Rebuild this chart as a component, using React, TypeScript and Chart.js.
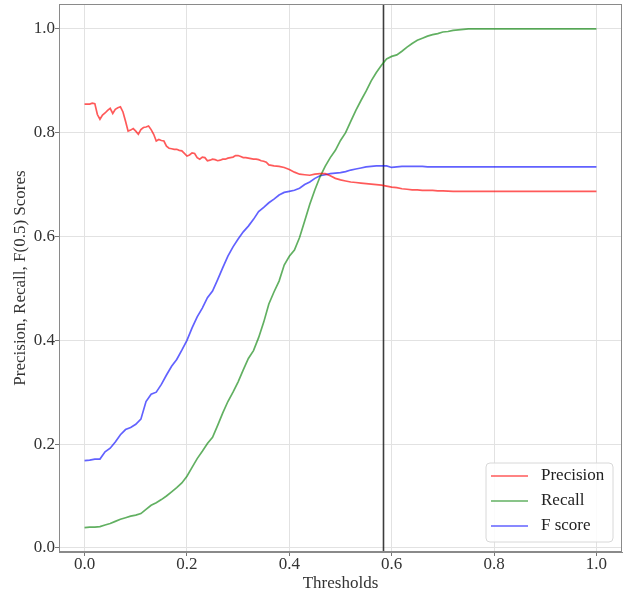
import React, { useEffect, useRef } from "react";
import { Chart, registerables } from "chart.js";

Chart.register(...registerables);

const thresholds = [
  0.0, 0.01, 0.02, 0.03, 0.04, 0.05, 0.06, 0.07, 0.08, 0.09,
  0.1, 0.11, 0.12, 0.13, 0.14, 0.15, 0.16, 0.17, 0.18, 0.19,
  0.2, 0.21, 0.22, 0.23, 0.24, 0.25, 0.26, 0.27, 0.28, 0.29,
  0.3, 0.31, 0.32, 0.33, 0.34, 0.35, 0.36, 0.37, 0.38, 0.39,
  0.4, 0.41, 0.42, 0.43, 0.44, 0.45, 0.46, 0.47, 0.48, 0.49,
  0.5, 0.51, 0.52, 0.53, 0.54, 0.55, 0.56, 0.57, 0.58, 0.59,
  0.6, 0.61, 0.62, 0.63, 0.64, 0.65, 0.66, 0.67, 0.68, 0.69,
  0.7, 0.71, 0.72, 0.73, 0.74, 0.75, 0.76, 0.77, 0.78, 0.79,
  0.8, 0.81, 0.82, 0.83, 0.84, 0.85, 0.86, 0.87, 0.88, 0.89,
  0.9, 0.91, 0.92, 0.93, 0.94, 0.95, 0.96, 0.97, 0.98, 0.99, 1.0,
];

// Precision is read more finely where it is noisy (0 - 0.37)
const precisionThresholds = [
  0.0, 0.005, 0.01, 0.015, 0.02, 0.025, 0.03, 0.035, 0.04, 0.045,
  0.05, 0.055, 0.06, 0.065, 0.07, 0.075, 0.08, 0.085, 0.09, 0.095,
  0.1, 0.105, 0.11, 0.115, 0.12, 0.125, 0.13, 0.135, 0.14, 0.145,
  0.15, 0.155, 0.16, 0.165, 0.17, 0.175, 0.18, 0.185, 0.19, 0.195,
  0.2, 0.205, 0.21, 0.215, 0.22, 0.225, 0.23, 0.235, 0.24, 0.245,
  0.25, 0.255, 0.26, 0.265, 0.27, 0.275, 0.28, 0.285, 0.29, 0.295,
  0.3, 0.305, 0.31, 0.315, 0.32, 0.325, 0.33, 0.335, 0.34, 0.345,
  0.35, 0.355, 0.36, 0.365, 0.37, 0.38, 0.39,
  0.4, 0.41, 0.42, 0.43, 0.44, 0.45, 0.46, 0.47, 0.48, 0.49,
  0.5, 0.51, 0.52, 0.53, 0.54, 0.55, 0.56, 0.57, 0.58, 0.59,
  0.6, 0.61, 0.62, 0.63, 0.64, 0.65, 0.66, 0.67, 0.68, 0.69,
  0.7, 0.72, 0.75, 0.8, 0.85, 0.9, 0.95, 1.0,
];

const precision = [
  0.855, 0.855, 0.855, 0.857, 0.856, 0.835, 0.826, 0.834, 0.838, 0.843,
  0.847, 0.837, 0.845, 0.848, 0.85, 0.84, 0.822, 0.803, 0.805, 0.808,
  0.803, 0.797, 0.806, 0.81, 0.811, 0.813, 0.806, 0.797, 0.784, 0.787,
  0.785, 0.784, 0.774, 0.77, 0.769, 0.768, 0.768, 0.766, 0.765, 0.76,
  0.755, 0.757, 0.761, 0.76, 0.752, 0.749, 0.753, 0.752, 0.746, 0.747,
  0.749, 0.748, 0.746, 0.747, 0.749, 0.749, 0.751, 0.752, 0.753, 0.756,
  0.756, 0.754, 0.752, 0.752, 0.751, 0.75, 0.749, 0.749, 0.748, 0.746,
  0.745, 0.743, 0.738, 0.737, 0.736, 0.735, 0.733,
  0.729, 0.724, 0.72, 0.719, 0.718, 0.72, 0.721, 0.721, 0.717, 0.712,
  0.709, 0.707, 0.705, 0.704, 0.703, 0.702, 0.701, 0.7, 0.699, 0.697,
  0.695, 0.694, 0.692, 0.691, 0.69, 0.69, 0.689, 0.689, 0.689, 0.688,
  0.688, 0.687, 0.687, 0.687, 0.687, 0.687, 0.687, 0.687,
];

const recall = [
  0.039, 0.04, 0.04, 0.041, 0.044, 0.047, 0.051, 0.055, 0.058, 0.061,
  0.063, 0.066, 0.074, 0.082, 0.087, 0.093, 0.1, 0.108, 0.116, 0.125,
  0.138, 0.155, 0.172, 0.186, 0.201, 0.213, 0.236, 0.26, 0.282, 0.3,
  0.32, 0.343, 0.365, 0.38, 0.405, 0.435, 0.47, 0.493, 0.514, 0.545,
  0.562, 0.574, 0.598, 0.63, 0.662, 0.69, 0.715, 0.735, 0.752, 0.766,
  0.785, 0.8, 0.822, 0.843, 0.862, 0.88, 0.9, 0.916, 0.93, 0.942,
  0.947, 0.95, 0.957, 0.965, 0.972, 0.978, 0.982, 0.986, 0.989, 0.991,
  0.994, 0.995, 0.997, 0.998, 0.999, 1.0, 1.0, 1.0, 1.0, 1.0,
  1.0, 1.0, 1.0, 1.0, 1.0, 1.0, 1.0, 1.0, 1.0, 1.0,
  1.0, 1.0, 1.0, 1.0, 1.0, 1.0, 1.0, 1.0, 1.0, 1.0, 1.0,
];

const fScore = [
  0.168, 0.169, 0.171, 0.171, 0.185, 0.192, 0.204, 0.218, 0.228, 0.232,
  0.238, 0.248, 0.282, 0.296, 0.3, 0.315, 0.333, 0.35, 0.363, 0.381,
  0.4, 0.424, 0.445, 0.462, 0.482, 0.495, 0.517, 0.54, 0.562, 0.58,
  0.595, 0.609, 0.62, 0.633, 0.648, 0.656, 0.665, 0.672, 0.68, 0.685,
  0.687, 0.689, 0.693, 0.7, 0.705, 0.712, 0.717, 0.719, 0.721, 0.722,
  0.723, 0.725, 0.728, 0.73, 0.732, 0.734, 0.735, 0.736, 0.736, 0.736,
  0.733, 0.734, 0.735, 0.735, 0.735, 0.735, 0.735, 0.734, 0.734, 0.734,
  0.734, 0.734, 0.734, 0.734, 0.734, 0.734, 0.734, 0.734, 0.734, 0.734,
  0.734, 0.734, 0.734, 0.734, 0.734, 0.734, 0.734, 0.734, 0.734, 0.734,
  0.734, 0.734, 0.734, 0.734, 0.734, 0.734, 0.734, 0.734, 0.734, 0.734, 0.734,
];

const bestThreshold = 0.584;
const xTicks = [0, 0.2, 0.4, 0.6, 0.8, 1.0];
const yTicks = [0, 0.2, 0.4, 0.6, 0.8, 1.0];
const xMin = -0.05;
const xMax = 1.05;
const yMin = -0.008;
const yMax = 1.048;

const seriesLabels = ["Precision", "Recall", "F score"];
const seriesColors = ["rgba(255,0,0,0.65)", "rgba(0,128,0,0.62)", "rgba(0,0,255,0.62)"];

const FONT = "'Liberation Serif', 'Times New Roman', serif";

const framePlugin = {
  id: "frameAndLegend",
  afterDatasetsDraw(chart: any) {
    const { ctx, chartArea } = chart;
    ctx.save();
    ctx.strokeStyle = "#8a8a8a";
    ctx.lineWidth = 1;
    ctx.strokeRect(chartArea.left + 0.5, chartArea.top + 0.5, chartArea.right - chartArea.left - 1, chartArea.bottom - chartArea.top - 1);

    // legend box
    const w = 127;
    const h = 79;
    const x0 = chartArea.right - 9 - w;
    const y0 = chartArea.bottom - 10 - h;
    const r = 4;
    ctx.beginPath();
    ctx.moveTo(x0 + r, y0);
    ctx.lineTo(x0 + w - r, y0);
    ctx.quadraticCurveTo(x0 + w, y0, x0 + w, y0 + r);
    ctx.lineTo(x0 + w, y0 + h - r);
    ctx.quadraticCurveTo(x0 + w, y0 + h, x0 + w - r, y0 + h);
    ctx.lineTo(x0 + r, y0 + h);
    ctx.quadraticCurveTo(x0, y0 + h, x0, y0 + h - r);
    ctx.lineTo(x0, y0 + r);
    ctx.quadraticCurveTo(x0, y0, x0 + r, y0);
    ctx.closePath();
    ctx.fillStyle = "rgba(255,255,255,0.85)";
    ctx.fill();
    ctx.strokeStyle = "#d8d8d8";
    ctx.stroke();

    ctx.font = "17px " + FONT;
    ctx.textBaseline = "middle";
    ctx.textAlign = "left";
    for (let i = 0; i < seriesLabels.length; i++) {
      const yy = y0 + 13 + i * 25;
      ctx.strokeStyle = seriesColors[i];
      ctx.lineWidth = 1.6;
      ctx.beginPath();
      ctx.moveTo(x0 + 5, yy);
      ctx.lineTo(x0 + 42, yy);
      ctx.stroke();
      ctx.fillStyle = "#222";
      ctx.fillText(seriesLabels[i], x0 + 55, yy);
    }
    ctx.restore();
  },
};

export default function App() {
  const ref = useRef<HTMLCanvasElement | null>(null);

  useEffect(() => {
    document.body.style.margin = "0";
    if (!ref.current) return;
    const seriesX = [precisionThresholds, thresholds, thresholds];
    const seriesData = [precision, recall, fScore];
    const datasets: any[] = seriesData.map((arr, i) => ({
      label: seriesLabels[i],
      data: seriesX[i].map((t, j) => ({ x: t, y: arr[j] })),
      borderColor: seriesColors[i],
      borderWidth: 1.7,
      pointRadius: 0,
      fill: false,
      tension: 0,
    }));
    datasets.push({
      label: "best",
      data: [
        { x: bestThreshold, y: yMin },
        { x: bestThreshold, y: yMax },
      ],
      borderColor: "rgba(40,40,40,0.9)",
      borderWidth: 1.6,
      pointRadius: 0,
      fill: false,
    });

    const chart = new Chart(ref.current, {
      type: "line",
      data: { datasets },
      plugins: [framePlugin],
      options: {
        animation: false,
        responsive: true,
        maintainAspectRatio: false,
        layout: { padding: { top: 4, right: 12, left: 0, bottom: 0 } },
        plugins: {
          legend: { display: false },
          tooltip: { enabled: false },
        },
        scales: {
          x: {
            type: "linear",
            min: xMin,
            max: xMax,
            afterBuildTicks: (s: any) => {
              s.ticks = xTicks.map((v) => ({ value: v }));
            },
            afterFit: (s: any) => {
              s.height = 43;
              s.paddingLeft = 0;
              s.paddingRight = 0;
            },
            ticks: {
              font: { family: FONT, size: 17 },
              color: "#333",
              padding: -2,
              maxRotation: 0,
              callback: (v: any) => Number(v).toFixed(1),
            },
            grid: { color: "#e2e2e2", lineWidth: 1, tickColor: "#777", tickLength: 4 },
            border: { color: "#8a8a8a" },
            title: {
              display: true,
              text: "Thresholds",
              font: { family: FONT, size: 17 },
              color: "#333",
              padding: { top: 0, bottom: 1 },
            },
          },
          y: {
            type: "linear",
            min: yMin,
            max: yMax,
            afterBuildTicks: (s: any) => {
              s.ticks = yTicks.map((v) => ({ value: v }));
            },
            afterFit: (s: any) => {
              s.width = 59;
              s.paddingTop = 0;
              s.paddingBottom = 0;
            },
            ticks: {
              font: { family: FONT, size: 17 },
              color: "#333",
              padding: 0,
              callback: (v: any) => Number(v).toFixed(1),
            },
            grid: { color: "#e2e2e2", lineWidth: 1, tickColor: "#777", tickLength: 4 },
            border: { color: "#8a8a8a" },
            title: {
              display: true,
              text: "Precision, Recall, F(0.5) Scores",
              font: { family: FONT, size: 17 },
              color: "#333",
              padding: { top: 10, bottom: 0 },
            },
          },
        },
      } as any,
    });
    return () => chart.destroy();
  }, []);

  return (
    <div style={{ width: 634, height: 595, position: "relative" }}>
      <canvas ref={ref} style={{ display: "block" }} />
    </div>
  );
}
